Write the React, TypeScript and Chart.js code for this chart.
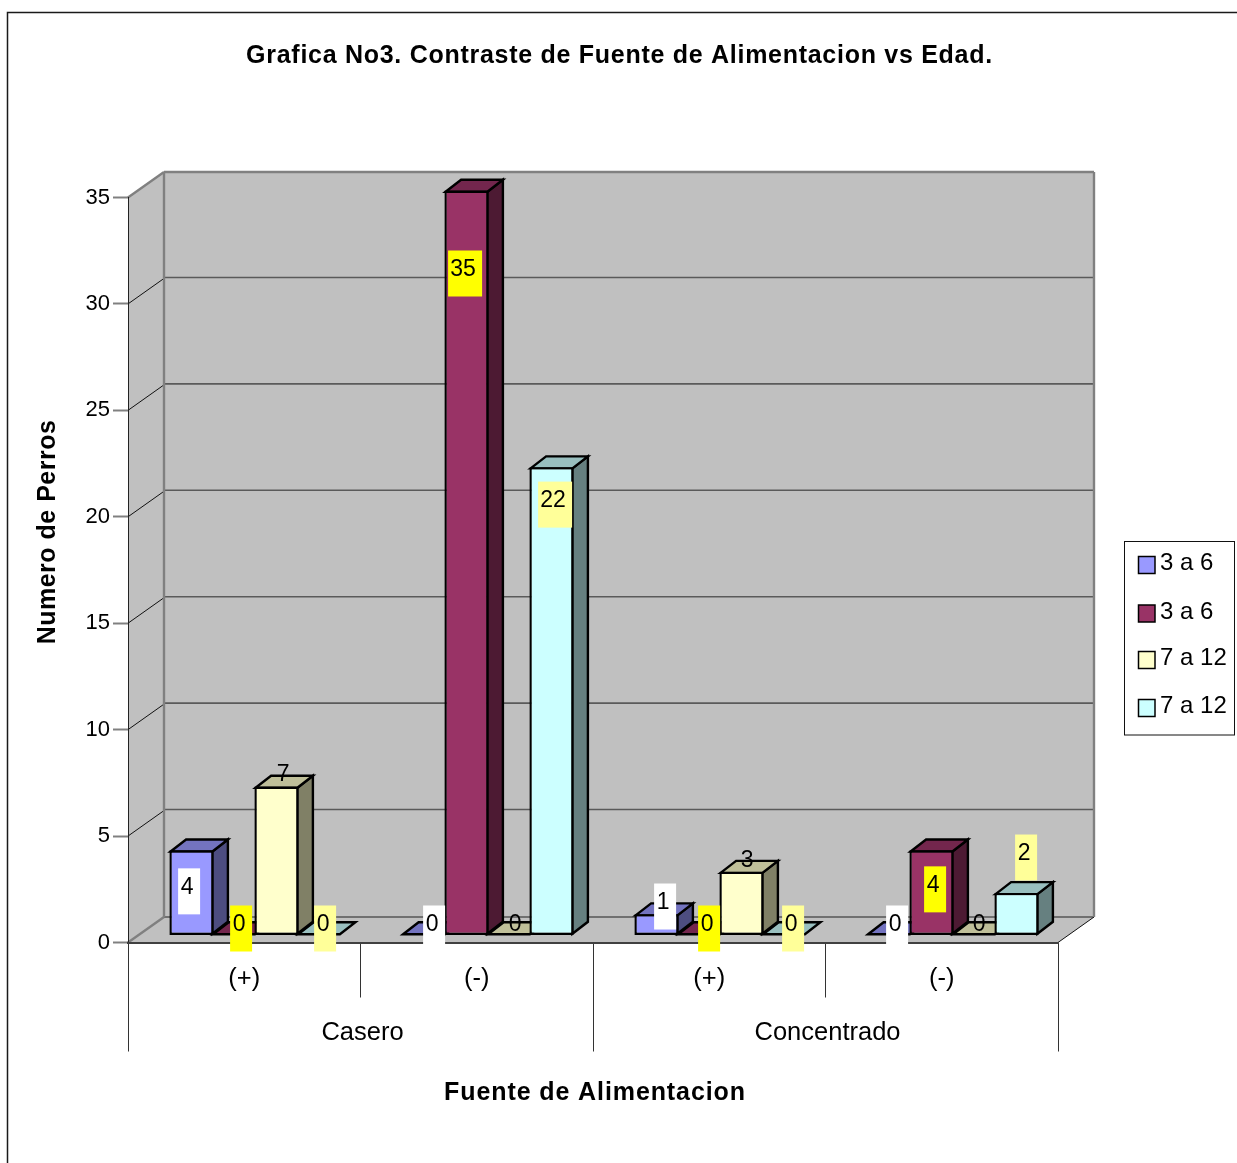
import React, { useEffect, useRef } from "react";
import { Chart, registerables } from "chart.js";

Chart.register(...registerables);

const FONT = '"Liberation Sans", Arial, sans-serif';

const chartTitle = "Grafica No3. Contraste de Fuente de Alimentacion vs Edad.";
const xAxisTitle = "Fuente de Alimentacion";
const yAxisTitle = "Numero de Perros";
const subgroups = ["(+)", "(-)", "(+)", "(-)"];
const sources = ["Casero", "Concentrado"];
const seriesNames = ["3 a 6", "3 a 6", "7 a 12", "7 a 12"];

const seriesA = [4, 0, 1, 0];
const seriesB = [0, 35, 0, 4];
const seriesC = [7, 0, 3, 0];
const seriesD = [0, 22, 0, 2];

const faceColors = ["#9999FF", "#993366", "#FFFFCC", "#CCFFFF"];
const topColors = ["#7373BF", "#73264D", "#BFBF99", "#99BFBF"];
const sideColors = ["#4D4D80", "#4D1A33", "#808066", "#668080"];
const labelBackgrounds = ["#FFFFFF", "#FFFF00", "", "#FFFF99"];

// Data label placement relative to the bar's centre and top, per series and group.
const labelShiftX = [
  [-4.4, 8.1, 6.6, 6.1],
  [5.1, -3.4, 8.1, 1.6],
  [6.6, 6.1, 5.6, 5.1],
  [4.1, 1.6, 7.1, 7.6],
];
const labelShiftY = [
  [36.5, -11.5, -12.2, -11.5],
  [-11.5, 78.5, -11.5, 34.5],
  [-12.5, -11.5, -11.5, -11.5],
  [-11.5, 32.9, -11.5, -39.9],
];

// Projection of the chart's depth: wall offset and bar plane offset.
const WALL_DX = 36;
const WALL_DY = 25.5;
const BAR_PLANE_DX = 11;
const BAR_PLANE_DY = 7;
const BAR_DX = 15.5;
const BAR_DY = 12;
const BAR_LINE = 2.4;

function polygon(ctx: CanvasRenderingContext2D, pts: number[][], fill: string, stroke: string, lw: number) {
  ctx.beginPath();
  pts.forEach(([x, y], i) => (i ? ctx.lineTo(x, y) : ctx.moveTo(x, y)));
  ctx.closePath();
  if (fill) {
    ctx.fillStyle = fill;
    ctx.fill();
  }
  if (stroke) {
    ctx.strokeStyle = stroke;
    ctx.lineWidth = lw;
    ctx.stroke();
  }
}

function line(ctx: CanvasRenderingContext2D, x1: number, y1: number, x2: number, y2: number, color: string, lw: number) {
  ctx.beginPath();
  ctx.moveTo(x1, y1);
  ctx.lineTo(x2, y2);
  ctx.strokeStyle = color;
  ctx.lineWidth = lw;
  ctx.stroke();
}

// Page background, frame, side wall, back wall and floor with their grid lines.
const wallsPlugin = {
  id: "walls",
  beforeDraw(chart: any) {
    const { ctx, width, height, chartArea: a, scales } = chart;
    ctx.save();
    ctx.fillStyle = "#FFFFFF";
    ctx.fillRect(0, 0, width, height);
    ctx.strokeStyle = "#1A1A1A";
    ctx.lineWidth = 1.5;
    ctx.strokeRect(7.5, 12.5, width + 20, height + 20);

    const { left: l, right: r, top: t, bottom: b } = a;
    polygon(ctx, [[l, t], [l + WALL_DX, t - WALL_DY], [l + WALL_DX, b - WALL_DY], [l, b]], "#C0C0C0", "", 0);
    polygon(ctx, [[l + WALL_DX, t - WALL_DY], [r + WALL_DX, t - WALL_DY], [r + WALL_DX, b - WALL_DY], [l + WALL_DX, b - WALL_DY]], "#C0C0C0", "", 0);
    polygon(ctx, [[l, b], [l + WALL_DX, b - WALL_DY], [r + WALL_DX, b - WALL_DY], [r, b]], "#C0C0C0", "", 0);

    const y = scales.y;
    y.ticks.forEach((tick: any) => {
      const py = y.getPixelForValue(tick.value);
      if (tick.value === 0 || tick.value === 35) return;
      line(ctx, l, py, l + WALL_DX, py - WALL_DY, "#111111", 1);
      line(ctx, l + WALL_DX, py - WALL_DY - 1, r + WALL_DX, py - WALL_DY - 1, "#5A5A5A", 1.6);
    });
    line(ctx, l + WALL_DX, b - WALL_DY, r + WALL_DX, b - WALL_DY, "#707070", 2);
    line(ctx, l, t, l + WALL_DX, t - WALL_DY, "#808080", 2.4);
    line(ctx, l, b, l + WALL_DX, b - WALL_DY, "#808080", 2.4);
    line(ctx, r, b, r + WALL_DX, b - WALL_DY, "#111111", 1);
    line(ctx, l + WALL_DX, t - WALL_DY, r + WALL_DX, t - WALL_DY, "#808080", 2.4);
    line(ctx, l + WALL_DX, t - WALL_DY, l + WALL_DX, b - WALL_DY, "#808080", 2.4);
    line(ctx, r + WALL_DX, t - WALL_DY, r + WALL_DX, b - WALL_DY, "#808080", 2.4);
    ctx.restore();
  },
};

// Shifts the bars onto their plane and extrudes each one; the library paints the front faces.
const extrudePlugin = {
  id: "extrude",
  beforeDatasetsDraw(chart: any) {
    const { ctx } = chart;
    ctx.save();
    ctx.translate(BAR_PLANE_DX, -BAR_PLANE_DY);
    ctx.lineJoin = "miter";
    const bars: any[] = [];
    chart.data.datasets.forEach((_: any, i: number) => {
      chart.getDatasetMeta(i).data.forEach((el: any) => {
        bars.push({ i, p: el.getProps(["x", "y", "base", "width"], true) });
      });
    });
    // Flat zero-height bars go first so the neighbouring solids cover them.
    bars.sort((a, b) => Number(a.p.base - a.p.y > 0) - Number(b.p.base - b.p.y > 0));
    bars.forEach(({ i, p }) => {
      const inset = BAR_LINE / 2;
      const xl = p.x - p.width / 2 + inset;
      const xr = p.x + p.width / 2 - inset;
      const yb = p.base - inset;
      const yt = Math.min(p.y + inset, yb);
      if (yb > yt) {
        polygon(ctx, [[xr, yt], [xr + BAR_DX, yt - BAR_DY], [xr + BAR_DX, yb - BAR_DY], [xr, yb]], sideColors[i], "#000000", BAR_LINE);
      }
      polygon(ctx, [[xl, yt], [xl + BAR_DX, yt - BAR_DY], [xr + BAR_DX, yt - BAR_DY], [xr, yt]], topColors[i], "#000000", BAR_LINE);
    });
  },
  afterDatasetsDraw(chart: any) {
    chart.ctx.restore();
  },
};

// Value labels, some with a coloured plate behind them, and the remaining chart text.
const annotationsPlugin = {
  id: "annotations",
  afterDatasetsDraw(chart: any) {
    const { ctx } = chart;
    ctx.save();
    ctx.font = `23px ${FONT}`;
    ctx.textAlign = "center";
    ctx.textBaseline = "middle";
    chart.data.datasets.forEach((ds: any, i: number) => {
      chart.getDatasetMeta(i).data.forEach((el: any, j: number) => {
        const p = el.getProps(["x", "y"], true);
        const tx = p.x + BAR_PLANE_DX + labelShiftX[i][j];
        const ty = p.y - BAR_PLANE_DY + labelShiftY[i][j];
        const text = String(ds.data[j]);
        if (labelBackgrounds[i]) {
          const w = text.length > 1 ? 34 : 22;
          ctx.fillStyle = labelBackgrounds[i];
          ctx.fillRect(tx + 2 - w / 2, ty + 4.5 - 23, w, 46);
        }
        ctx.fillStyle = "#000000";
        ctx.fillText(text, tx, ty + 1);
      });
    });

    // Legend
    ctx.strokeStyle = "#111111";
    ctx.lineWidth = 1;
    ctx.strokeRect(1124.5, 541.5, 110, 193.5);
    const rows = [565, 613.5, 660, 708];
    ctx.textAlign = "left";
    ctx.font = `24px ${FONT}`;
    chart.data.datasets.forEach((ds: any, i: number) => {
      ctx.fillStyle = faceColors[i];
      ctx.fillRect(1138.5, rows[i] - 8.5, 16.5, 17);
      ctx.strokeStyle = "#000000";
      ctx.lineWidth = 1.5;
      ctx.strokeRect(1138.5, rows[i] - 8.5, 16.5, 17);
      ctx.fillStyle = "#000000";
      ctx.fillText(ds.label, 1160, rows[i] - 1.5);
    });

    // Chart title and axis titles
    ctx.font = `bold 25px ${FONT}`;
    ctx.textAlign = "center";
    (ctx as any).letterSpacing = "0.72px";
    ctx.fillText(chartTitle, 619.5, 56);
    (ctx as any).letterSpacing = "0.9px";
    ctx.fillText(xAxisTitle, 595, 1093);
    (ctx as any).letterSpacing = "0.5px";
    ctx.translate(48, 532);
    ctx.rotate(-Math.PI / 2);
    ctx.fillText(yAxisTitle, 0, 0);
    (ctx as any).letterSpacing = "0px";
    ctx.restore();
  },
};

export default function App() {
  const ref = useRef<HTMLCanvasElement>(null);

  useEffect(() => {
    const values = [seriesA, seriesB, seriesC, seriesD];
    const chart = new Chart(ref.current as HTMLCanvasElement, {
      type: "bar",
      data: {
        labels: subgroups,
        datasets: values.map((data, i) => ({
          label: seriesNames[i],
          data,
          backgroundColor: faceColors[i],
          borderColor: "#000000",
          borderWidth: BAR_LINE,
          borderSkipped: false,
          clip: false,
          categoryPercentage: 0.7312,
          barPercentage: 1.04,
          xAxisID: "x",
          yAxisID: "y",
        })),
      },
      options: {
        responsive: false,
        animation: false,
        layout: { padding: { left: 0, right: 179, top: 197.5, bottom: 0 } },
        plugins: {
          legend: { display: false },
          title: { display: false },
          tooltip: { enabled: false },
        },
        scales: {
          y: {
            position: "left",
            min: 0,
            max: 35,
            afterFit: (s: any) => {
              s.width = 128;
            },
            ticks: {
              stepSize: 5,
              padding: 3,
              color: "#000000",
              font: { family: FONT, size: 22 },
            },
            grid: { drawOnChartArea: false, tickLength: 15, tickColor: "#808080", tickWidth: 2 },
            border: { color: "#222222", width: 1 },
          },
          x: {
            position: "bottom",
            weight: 0,
            offset: true,
            afterFit: (s: any) => {
              s.height = 54;
            },
            ticks: {
              padding: -34,
              color: "#000000",
              maxRotation: 0,
              autoSkip: false,
              font: { family: FONT, size: 25.5 },
            },
            grid: { drawOnChartArea: false, offset: true, tickLength: 55, tickColor: "#333333", tickWidth: 1 },
            border: { color: "#404040", width: 2 },
          },
          xSource: {
            type: "category",
            position: "bottom",
            weight: 1,
            labels: sources,
            offset: true,
            afterFit: (s: any) => {
              s.height = 166.5;
            },
            ticks: {
              padding: -33.5,
              labelOffset: 2,
              color: "#000000",
              maxRotation: 0,
              autoSkip: false,
              font: { family: FONT, size: 25.5 },
            },
            grid: { drawOnChartArea: false, offset: true, tickLength: 55, tickColor: "#333333", tickWidth: 1 },
            border: { display: false },
          },
        },
      },
      plugins: [wallsPlugin, extrudePlugin, annotationsPlugin],
    } as any);
    return () => chart.destroy();
  }, []);

  return (
    <canvas
      ref={ref}
      width={1237}
      height={1163}
      style={{ position: "absolute", left: 0, top: 0, display: "block" }}
    />
  );
}
